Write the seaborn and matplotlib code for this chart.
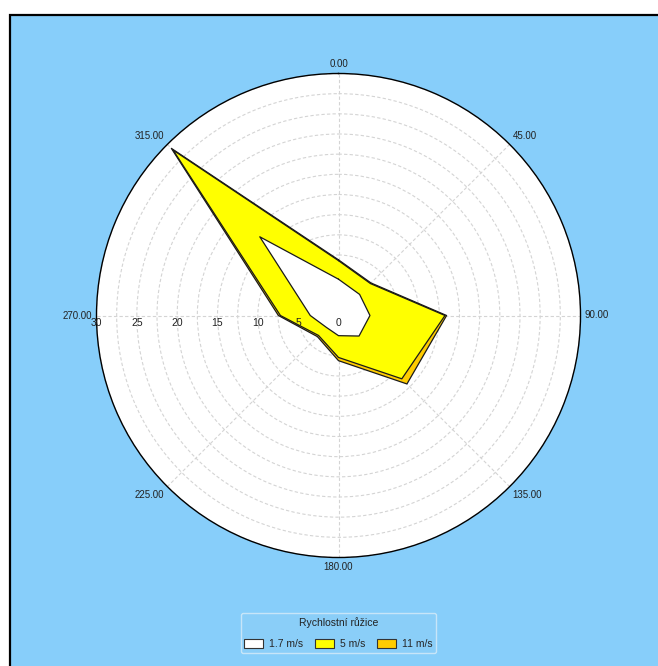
import numpy as np
import pandas as pd
import matplotlib
matplotlib.use("Agg")
import matplotlib.pyplot as plt
import matplotlib.transforms as mtransforms
from matplotlib.patches import Rectangle, Patch
import seaborn as sns

# ---- data ----
directions = [0, 45, 90, 135, 180, 225, 270, 315]          # degrees (compass)
speed_classes = ["1.7 m/s", "5 m/s", "11 m/s"]
freq_1_7 = [4.5, 3.7, 3.9, 3.6, 2.5, 2.1, 3.5, 13.8]
freq_5 = [2.3, 1.9, 9.3, 7.5, 2.7, 1.4, 3.7, 15.2]
freq_11 = [0.1, 0.1, 0.2, 0.9, 0.4, 0.2, 0.25, 0.3]
class_colors = ["#FFFFFF", "#FFFF00", "#FFCC00"]
radial_ticks = [0, 5, 10, 15, 20, 25, 30]
angle_labels = ["0.00", "45.00", "90.00", "135.00", "180.00", "225.00", "270.00", "315.00"]
legend_title = "Rychlostní růžice"

sns.set_style("white")
plt.rcParams["font.family"] = ["Liberation Sans", "DejaVu Sans"]

W, H = 658, 666
fig = plt.figure(figsize=(W / 100, H / 100), dpi=100, facecolor="white")

# blue panel with black left/top border
fig.patches.append(Rectangle((9.5 / W, -0.1), 1.2, (H - 14.5) / H + 0.1,
                             transform=fig.transFigure, facecolor="#87CEFA",
                             edgecolor="black", linewidth=1.6, zorder=-5))

cx, cy, R = 338.5, 315.5, 242
ax = fig.add_axes([(cx - R) / W, (H - cy - R) / H, 2 * R / W, 2 * R / H],
                  projection="polar")
ax.set_facecolor("white")
ax.set_theta_zero_location("N")
ax.set_theta_direction(-1)
ax.set_ylim(0, 30)

# stacked data
df = pd.DataFrame({"dir": directions, speed_classes[0]: freq_1_7,
                   speed_classes[1]: freq_5, speed_classes[2]: freq_11})
cum = df[speed_classes].cumsum(axis=1)
theta = np.deg2rad(np.array(directions + [directions[0]], dtype=float))

# draw from outermost class inward
for cls, col, z in zip(speed_classes[::-1], class_colors[::-1], [3, 4, 5]):
    r = np.append(cum[cls].values, cum[cls].values[0])
    ax.fill(theta, r, facecolor=col, edgecolor="none", zorder=z)
    sns.lineplot(x=theta, y=r, ax=ax, sort=False, color="#1a1a1a",
                 linewidth=0.9, zorder=z + 0.5, estimator=None)
ax.set_xlabel("")
ax.set_ylabel("")

# grid
ax.set_yticks(np.arange(0, 30.01, 2.5))
ax.set_yticklabels([])
ax.set_xticks(np.deg2rad(directions))
ax.set_xticklabels([])
ax.grid(True, color="#d4d4d4", linestyle=(0, (3, 2)), linewidth=0.8)
ax.set_axisbelow(True)
for gl in ax.get_xgridlines() + ax.get_ygridlines():
    gl.set_zorder(1)
ax.spines["polar"].set_color("black")
ax.spines["polar"].set_linewidth(1.0)

# angle labels just outside the circle, anchored by quadrant
align = {0: ("center", "bottom"), 45: ("left", "bottom"), 90: ("left", "center"),
         135: ("left", "top"), 180: ("center", "top"), 225: ("right", "top"),
         270: ("right", "center"), 315: ("right", "bottom")}
for d, lab in zip(directions, angle_labels):
    ha, va = align[d]
    dist = 3.0  # points
    ox = dist * np.sin(np.deg2rad(d))
    oy = dist * np.cos(np.deg2rad(d))
    ax.annotate(lab, xy=(np.deg2rad(d), 30), xytext=(ox, oy),
                textcoords="offset points", ha=ha, va=va, fontsize=7,
                color="#222222", annotation_clip=False)

# radial labels along 270°
off = mtransforms.offset_copy(ax.transData, fig=fig, x=0, y=-7, units="dots")
for rt in radial_ticks:
    ax.text(np.deg2rad(270), rt, str(rt), transform=off, ha="center",
            va="center", fontsize=7.5, color="#222222", zorder=10)

# legend
handles = [Patch(facecolor=c, edgecolor="#333333", linewidth=0.8) for c in class_colors]
leg = fig.legend(handles, speed_classes, title=legend_title, ncol=3,
                 loc="center", bbox_to_anchor=(cx / W, (H - 633) / H),
                 fontsize=7.5, title_fontsize=7.5, frameon=True,
                 handlelength=1.8, handleheight=0.85, columnspacing=1.1,
                 handletextpad=0.6, borderpad=0.35, labelspacing=1.1,
                 fancybox=True)
leg.get_frame().set_facecolor("#8BCFF8")
leg.get_frame().set_edgecolor("#D8ECF8")
leg.get_frame().set_linewidth(1.0)
leg.get_title().set_color("#222222")

fig.savefig("out.png", dpi=100, facecolor=fig.get_facecolor())
